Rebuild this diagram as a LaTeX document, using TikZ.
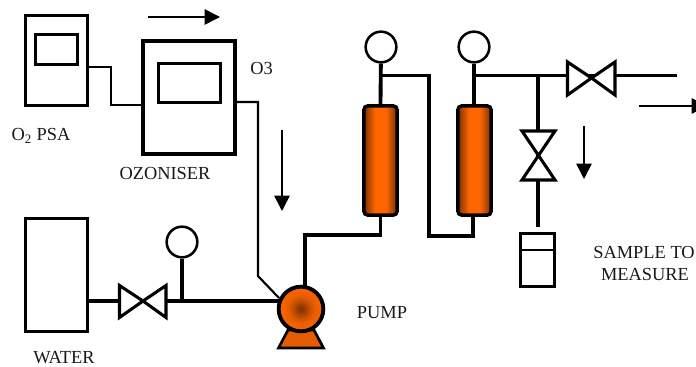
\documentclass[tikz,border=0pt]{standalone}
\usepackage{fontspec}
\setmainfont{Liberation Serif}
\usetikzlibrary{arrows.meta}
\definecolor{pipeorange}{HTML}{FF6600}
\definecolor{pipedark}{HTML}{7A3000}
\pgfdeclarehorizontalshading{columnshade}{100bp}{color(0bp)=(pipedark); color(25bp)=(pipedark); color(42bp)=(pipeorange); color(58bp)=(pipeorange); color(75bp)=(pipedark); color(100bp)=(pipedark)}
\pgfdeclareradialshading{pumpshade}{\pgfpoint{0bp}{0bp}}{color(0bp)=(pipedark); color(14bp)=(pipeorange!80!pipedark); color(25bp)=(pipeorange); color(50bp)=(pipeorange)}
\begin{document}
\begin{tikzpicture}[x=0.75pt,y=0.75pt]
    \tikzstyle{every node}+=[inner sep=0pt]
    \tikzstyle{box}=[draw=black,line width=2.3pt,fill=white]
    \tikzstyle{gauge}=[draw=black,circle,line width=1.9pt,minimum size=23pt]
    \tikzstyle{columnbox}=[draw=black,line width=2.6pt,rounded corners=3pt,minimum width=25pt,minimum height=82pt,shading=columnshade]
    \tikzstyle{pipe}=[line width=2.9pt,black]
    \tikzstyle{tube}=[line width=1.6pt,black]
    \tikzstyle{flow}=[line width=1.2pt,black,-{Triangle[width=11.5pt,length=11.5pt]}]
    \tikzstyle{caption}=[font=\fontsize{13.8pt}{16pt}\selectfont,text=black!90]
    \useasboundingbox (0,0) rectangle (696,-367);

    % oxygen and ozone side
    \node [box,minimum width=47pt,minimum height=68pt] (psa) at (56.5,-60.5) {};
    \node [box,minimum width=31.5pt,minimum height=22.5pt] (psascreen) at (56.5,-49.5) {};
    \node [box,line width=3pt,minimum width=69pt,minimum height=85pt] (ozoniser) at (189,-97.5) {};
    \node [box,minimum width=46.5pt,minimum height=29pt] (ozoniserscreen) at (189.5,-83) {};
    \coordinate (psaout) at (psa.east |- 0,-67);
    \coordinate (ozin) at (ozoniser.west |- 0,-105);
    \coordinate (ozout) at (ozoniser.east |- 0,-102);
    \coordinate (ozcorner) at (258,-102);
    \coordinate (ozbend) at (258,-276);
    \draw [tube] (psaout) -- (111,-67) -- (111,-105) -- (ozin);
    \draw [tube] (ozout) -- (ozcorner) -- (ozbend) -- (279,-298);

    % water side
    \node [box,minimum width=46.5pt,minimum height=85pt] (water) at (56.5,-275) {};
    \node [gauge] (gaugewater) at (182,-242) {};
    \coordinate (valvewater) at (143,-301);
    \coordinate (teewater) at (182,-301);
    \coordinate (pumpin) at (279,-301);
    \draw [pipe] (water.east |- valvewater) -- (pumpin);
    \draw [pipe] (gaugewater) -- (teewater);
    \draw [box,fill=white] (valvewater) -- (119.5,-285.5) -- (119.5,-317.5) -- cycle;
    \draw [box,fill=white] (valvewater) -- (166,-285.5) -- (166,-317.5) -- cycle;

    % pump
    \draw [black,line width=2pt,fill=pipeorange!90!black] (288,-330) -- (314,-330) -- (323.5,-348) -- (278.5,-348) -- cycle;
    \node [draw=black,circle,line width=2.9pt,minimum size=33.5pt,shading=pumpshade] (pump) at (301,-309) {};

    % columns
    \node [columnbox] (columna) at (380.5,-160.5) {};
    \node [columnbox] (columnb) at (474.5,-160.5) {};
    \node [gauge] (gaugea) at (381,-47) {};
    \node [gauge] (gaugeb) at (474,-47) {};
    \coordinate (pumpout) at (305,-286);
    \coordinate (teea) at (381,-75.5);
    \coordinate (teeb) at (474,-75.5);
    \draw [pipe] (pumpout) -- (305,-235) -- (columna.south |- 0,-235) -- (columna.south);
    \draw [pipe] (gaugea) -- (columna.north);
    \draw [pipe] (gaugeb) -- (columnb.north -| gaugeb);
    \draw [pipe] (teea) -- (429,-75.5) -- (429,-236) -- (473,-236) -- (columnb.south -| 473,0);

    % outlet and sample
    \coordinate (valveout) at (591.5,-78);
    \coordinate (teeout) at (538,-75.5);
    \coordinate (outend) at (677,-75.5);
    \coordinate (valvesample) at (538.5,-155.5);
    \node [box,minimum width=25pt,minimum height=40pt] (sample) at (537.5,-260) {};
    \coordinate (sampleline) at (sample.west |- 0,-250);
    \coordinate (sampleend) at (538,-227);
    \draw [pipe] (teeb) -- (outend);
    \draw [pipe] (teeout) -- (sampleend);
    \draw [box,fill=white] (valveout) -- (567.5,-62) -- (567.5,-95) -- cycle;
    \draw [box,fill=white] (valveout) -- (615,-62) -- (615,-95) -- cycle;
    \draw [box,fill=white] (valvesample) -- (522,-131) -- (555,-131) -- cycle;
    \draw [box,fill=white] (valvesample) -- (522,-180) -- (555,-180) -- cycle;
    \draw [black,line width=2pt] (sampleline) -- (sample.east |- sampleline);

    % flow arrows
    \coordinate (flowa) at (148,-17);
    \coordinate (flowb) at (220,-17);
    \coordinate (flowc) at (282,-130);
    \coordinate (flowd) at (282,-211);
    \coordinate (flowe) at (639,-106);
    \coordinate (flowf) at (707,-106);
    \coordinate (flowg) at (584,-126);
    \coordinate (flowh) at (584,-179);
    \draw [flow] (flowa) -- (flowb);
    \draw [flow] (flowc) -- (flowd);
    \draw [flow] (flowe) -- (flowf);
    \draw [flow] (flowg) -- (flowh);

    % labels
    \node [caption] (labelpsa) at (41,-136) {O\textsubscript{2} PSA};
    \node [caption] (labelozoniser) at (165,-173) {OZONISER};
    \node [caption] (labelozone) at (261.5,-68) {O3};
    \node [caption] (labelwater) at (64,-358) {WATER};
    \node [caption] (labelpump) at (382,-313) {PUMP};
    \node [caption] (labelsample) at (644,-252) {SAMPLE TO};
    \node [caption] (labelmeasure) at (645,-274) {MEASURE};
\end{tikzpicture}
\end{document}
